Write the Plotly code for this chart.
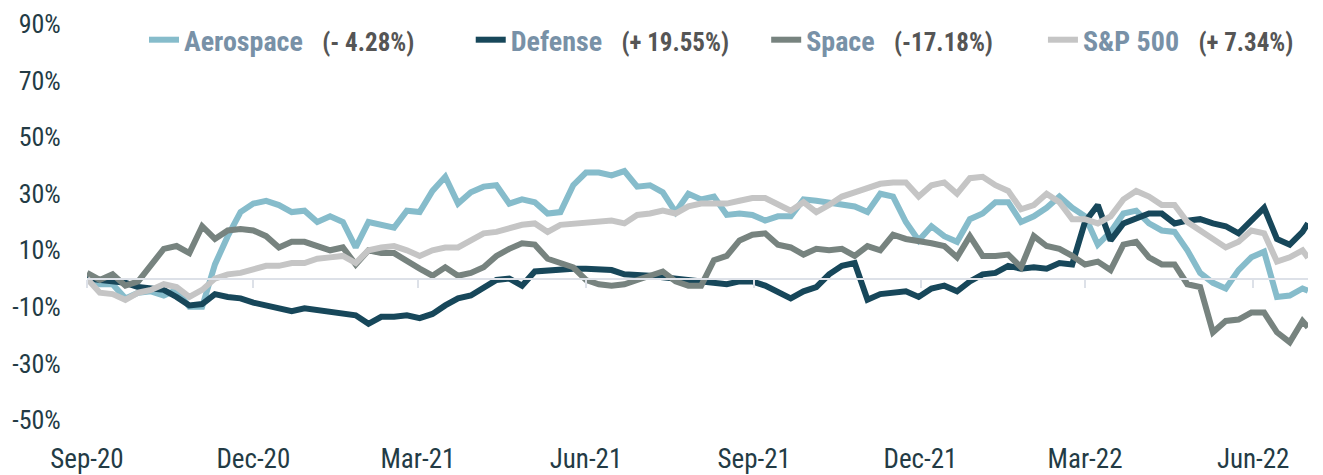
import pandas as pd
import plotly.graph_objects as go

# Weekly observations (Sep 1 2020 ... Jun 28 2022) plus final day
dates = list(pd.date_range("2020-09-01", periods=96, freq="7D").strftime("%Y-%m-%d")) + ["2022-07-01"]

aerospace = [0, -2, -2, -7, -5, -4.5, -6, -4, -10, -10,
             5, 15, 23.5, 26.5, 27.5, 26, 23.5, 24, 20, 22,
             20, 11, 20, 19, 18, 24, 23.5, 31, 36, 26.5,
             30.5, 32.5, 33, 26.5, 28, 27, 23, 23.5, 33, 37.5,
             37.5, 36.5, 38, 32.5, 33, 30.5, 23.5, 30, 28, 29,
             22.5, 23, 22.5, 20.5, 22, 22, 28, 27.5, 27, 26,
             25.5, 23.5, 30, 29, 20, 13.5, 18.5, 15, 13, 21,
             23, 27, 27, 20, 22, 25, 29, 25, 22, 12,
             16.5, 23, 24, 19.5, 17, 16.5, 10, 2, -1.5, -3.5,
             3, 7.5, 9.5, -6.5, -6, -3.5, -4.28]

defense = [0, -0.5, -1, -1.5, -3, -3.5, -4, -6.5, -9.5, -9,
           -5.5, -6.5, -7, -8.5, -9.5, -10, -11.5, -10.5, -11, -12,
           -12, -13, -16, -13.5, -13.5, -13, -14, -12.5, -9.5, -7,
           -6, -3, -0.5, 0, -2.5, 2.5, 3, 3.3, 3.5, 3.5,
           3.5, 3, 1.5, 1.5, 1, 0.5, 0, -0.5, -0.5, -1.5,
           -2, -1, -1, -2.5, -4.5, -7, -4.5, -3, 1.5, 4.5,
           5.5, -7.5, -5.5, -5, -4.5, -6.5, -3.5, -2.5, -4.5, -1,
           1.5, 2, 4.5, 3.5, 4, 3.5, 5.5, 5, 20, 26,
           13.5, 19.5, 21, 23, 23, 19.5, 20.5, 21, 19.5, 18.5,
           16, 20.5, 25, 14, 12, 16.5, 19.55]

space = [2, -0.5, 1.5, -2.5, -1, 5, 10.5, 11.5, 9, 18.5,
         14, 17, 17.5, 17, 15, 11, 13, 13, 11.5, 10,
         11, 5, 10, 9, 9, 6, 3.5, 1, 4, 1,
         2, 4, 8, 10.5, 12.5, 12, 7, 5.5, 4, -0.5,
         -2, -2.5, -2, -0.5, 1, 2.5, -1, -2.5, -2.5, 6.5,
         8, 13.5, 15.5, 16, 12, 11, 8.5, 10.5, 10, 10.5,
         8, 11.5, 10, 15.5, 14, 13.5, 12.5, 11.5, 7.5, 15,
         8, 8, 8.5, 4, 15, 11.5, 10.5, 8, 5, 6,
         3, 12, 13, 7.5, 5, 5, -2, -3, -19, -15,
         -14.5, -12, -12, -19, -22.5, -15, -17.18]

sp500 = [0, -5, -5.5, -7.5, -5, -4, -2, -3, -6.5, -4,
         0, 1.5, 2, 3.5, 4.5, 4.5, 5.5, 5.5, 7, 7.5,
         8, 5.5, 10, 11, 11.5, 10, 8, 10, 11, 11,
         13.5, 16, 16.5, 18, 19, 19.5, 16.5, 19, 19.5, 19.5,
         20, 20.5, 19.5, 22.5, 23, 24, 23, 25.5, 26.5, 26.5,
         26.5, 27.5, 28.5, 28.5, 26.5, 24, 27, 23.5, 26, 29,
         30.5, 32, 33.5, 34, 34, 29, 33, 34, 30, 35.5,
         36, 33, 31, 24.5, 26, 30, 27, 21, 21, 19.5,
         22, 28, 31, 29, 26, 26, 20, 17, 14, 11,
         13, 17, 16, 6, 7.5, 10, 7.34]

series_names = ["Aerospace", "Defense", "Space", "S&P 500"]
series_changes = ["(- 4.28%)", "(+ 19.55%)", "(-17.18%)", "(+ 7.34%)"]
series_values = [aerospace, defense, space, sp500]
series_colors = ["#86bccb", "#17475a", "#77837f", "#c5c5c5"]

tick_dates = ["2020-09-01", "2020-12-01", "2021-03-01", "2021-06-01",
              "2021-09-01", "2021-12-01", "2022-03-01", "2022-06-01"]
tick_labels = ["Sep-20", "Dec-20", "Mar-21", "Jun-21",
               "Sep-21", "Dec-21", "Mar-22", "Jun-22"]
y_ticks = [-50, -30, -10, 10, 30, 50, 70, 90]

NARROW = "Liberation Sans Narrow, Arial Narrow, Roboto Condensed, sans-serif"
NBSP = "\u00a0"
trailing_pad = [8, 5, 7, 1]  # legend spacing after each entry

fig = go.Figure()
for name, chg, vals, col, pad in zip(series_names, series_changes, series_values,
                                     series_colors, trailing_pad):
    label = (f"<b><span style='color:#7891a7'>{name.replace('&', '&amp;')}</span>"
             f"{NBSP*3}<span style='color:#555555;font-size:25px'>{chg}</span></b>{NBSP*pad}")
    fig.add_trace(go.Scatter(x=dates, y=vals, mode="lines", name=label,
                             line=dict(color=col, width=6), hoverinfo="skip"))

# invisible trace to carry the zero-line axis
fig.add_trace(go.Scatter(x=[dates[0], dates[-1]], y=[0, 0], xaxis="x2", mode="lines",
                         line=dict(width=0), opacity=0, showlegend=False, hoverinfo="skip"))

x_range = [dates[0], dates[-1]]
y_range = [-50, 90]
zero_pos = (0 - y_range[0]) / (y_range[1] - y_range[0])

# page body adds an 8px margin, so the figure is 8px smaller than the window
W, H = 1315, 467
ML, MR, MT, MB = 79, 15, 16, 55
plot_w = W - ML - MR
plot_h = H - MT - MB

fig.update_layout(
    width=W, height=H,
    margin=dict(l=ML, r=MR, t=MT, b=MB, autoexpand=False),
    paper_bgcolor="white", plot_bgcolor="white",
    showlegend=True,
    legend=dict(orientation="h", xref="paper", yref="paper",
                x=(136 - 79) / plot_w, y=1 - (32 - MT) / plot_h,
                xanchor="left", yanchor="middle",
                font=dict(family=NARROW, size=28, color="#555555"),
                bgcolor="rgba(0,0,0,0)", itemwidth=30, tracegroupgap=0),
    xaxis=dict(type="date", range=x_range, tickmode="array", tickvals=tick_dates,
               ticktext=tick_labels, showgrid=False, zeroline=False, showline=False,
               ticks="outside", ticklen=15, tickcolor="rgba(0,0,0,0)", automargin=False,
               tickfont=dict(family=NARROW, size=27, color="#233b45")),
    xaxis2=dict(type="date", range=x_range, overlaying="x", anchor="free", position=zero_pos,
                side="bottom", tickmode="array", tickvals=tick_dates, showticklabels=False,
                showgrid=False, zeroline=False, showline=True, linecolor="#dde1e8", linewidth=2,
                ticks="outside", ticklen=8, tickwidth=2, tickcolor="#dde1e8", automargin=False),
    yaxis=dict(range=y_range, tickmode="array", tickvals=y_ticks,
               ticktext=[f"{v}%" for v in y_ticks], showgrid=False, zeroline=False,
               showline=False, ticks="outside", ticklen=20, tickcolor="rgba(0,0,0,0)",
               automargin=False,
               tickfont=dict(family=NARROW, size=26, color="#233b45")),
)

fig.write_html("out.html")
